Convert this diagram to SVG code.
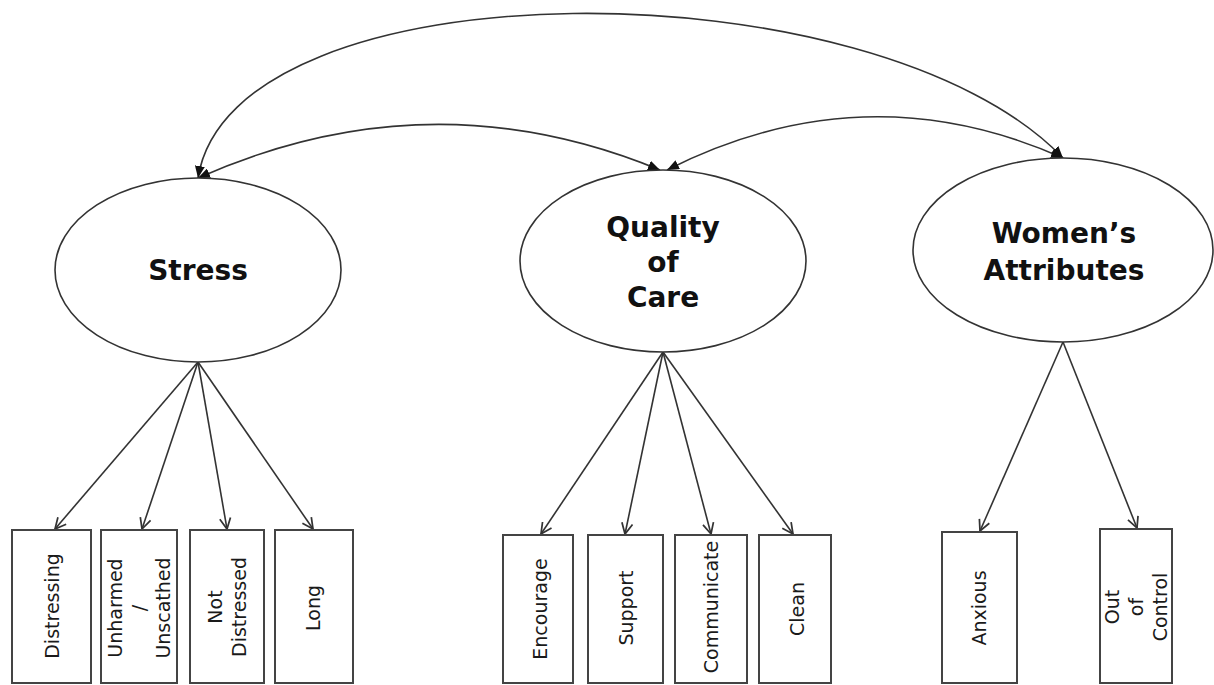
<svg xmlns="http://www.w3.org/2000/svg" width="1214" height="685" viewBox="0 0 1214 685">
<style>
.lat{fill:#fff;stroke:#333;stroke-width:1.6}
.ind{fill:#fff;stroke:#444;stroke-width:2}
.ltxt{font-family:"DejaVu Sans",Verdana,sans-serif;font-weight:bold;font-size:28px;fill:#111;text-anchor:middle}
.itxt{font-family:"DejaVu Sans",Verdana,sans-serif;font-size:19px;fill:#1a1a1a;text-anchor:middle;dominant-baseline:central}
.load{fill:none;stroke:#333;stroke-width:1.6;marker-end:url(#open)}
.cov{fill:none;stroke:#333;stroke-width:1.6;marker-start:url(#fill);marker-end:url(#fill)}
</style>
<defs>
<marker id="open" markerUnits="userSpaceOnUse" viewBox="0 0 12 12" refX="11" refY="6" markerWidth="13" markerHeight="13" orient="auto">
<path d="M1,1 L11,6 L1,11" fill="none" stroke="#333" stroke-width="1.6"/>
</marker>
<marker id="fill" markerUnits="userSpaceOnUse" viewBox="0 0 12 10" refX="12" refY="5" markerWidth="12" markerHeight="10" orient="auto-start-reverse">
<path d="M0,0 L12,5 L0,10 Z" fill="#111"/>
</marker>
</defs>
<rect width="1214" height="685" fill="#fff"/>
<g id="connectors">
<path class="cov" d="M198,178 C232,-38 875,-38 1063,158"/>
<path class="cov" d="M198,178 Q430,75 660,170"/>
<path class="cov" d="M667,170 Q865,70 1063,158"/>
<line class="load" x1="198" y1="362" x2="55" y2="529"/>
<line class="load" x1="198" y1="362" x2="142" y2="529"/>
<line class="load" x1="198" y1="362" x2="227" y2="529"/>
<line class="load" x1="198" y1="362" x2="313" y2="529"/>
<line class="load" x1="663" y1="352" x2="541" y2="534"/>
<line class="load" x1="663" y1="352" x2="625" y2="534"/>
<line class="load" x1="663" y1="352" x2="711" y2="534"/>
<line class="load" x1="663" y1="352" x2="793" y2="534"/>
<line class="load" x1="1063" y1="342" x2="980" y2="531"/>
<line class="load" x1="1063" y1="342" x2="1137" y2="528"/>
</g>
<g id="stress">
<ellipse class="lat" cx="198" cy="270" rx="143" ry="92"/>
<text class="ltxt" x="198" y="280">Stress</text>
</g>
<g id="quality">
<ellipse class="lat" cx="663" cy="261" rx="143" ry="91"/>
<text class="ltxt" x="663" y="237">Quality</text>
<text class="ltxt" x="663" y="272">of</text>
<text class="ltxt" x="663" y="307">Care</text>
</g>
<g id="women">
<ellipse class="lat" cx="1063" cy="250" rx="150" ry="92"/>
<text class="ltxt" x="1064" y="243">Women’s</text>
<text class="ltxt" x="1064" y="280">Attributes</text>
</g>
<g id="distressing">
<rect class="ind" x="12" y="530" width="79" height="153"/>
<text class="itxt" x="52" y="606" transform="rotate(-90 52 606)">Distressing</text>
</g>
<g id="unharmed">
<rect class="ind" x="101" y="530" width="76" height="153"/>
<text class="itxt" x="139" y="608" transform="rotate(-90 139 608)"><tspan x="139" dy="-24">Unharmed</tspan><tspan x="139" dy="24">/</tspan><tspan x="139" dy="24">Unscathed</tspan></text>
</g>
<g id="notdistressed">
<rect class="ind" x="190" y="530" width="74" height="153"/>
<text class="itxt" x="227" y="607" transform="rotate(-90 227 607)"><tspan x="227" dy="-12">Not</tspan><tspan x="227" dy="24">Distressed</tspan></text>
</g>
<g id="long">
<rect class="ind" x="275" y="530" width="78" height="153"/>
<text class="itxt" x="313" y="608" transform="rotate(-90 313 608)">Long</text>
</g>
<g id="encourage">
<rect class="ind" x="503" y="535" width="70" height="148"/>
<text class="itxt" x="540" y="609" transform="rotate(-90 540 609)">Encourage</text>
</g>
<g id="support">
<rect class="ind" x="588" y="535" width="75" height="148"/>
<text class="itxt" x="626" y="608" transform="rotate(-90 626 608)">Support</text>
</g>
<g id="communicate">
<rect class="ind" x="675" y="535" width="72" height="148"/>
<text class="itxt" x="711" y="607" transform="rotate(-90 711 607)">Communicate</text>
</g>
<g id="clean">
<rect class="ind" x="759" y="535" width="72" height="148"/>
<text class="itxt" x="797" y="609" transform="rotate(-90 797 609)">Clean</text>
</g>
<g id="anxious">
<rect class="ind" x="942" y="532" width="75" height="151"/>
<text class="itxt" x="979" y="608" transform="rotate(-90 979 608)">Anxious</text>
</g>
<g id="outofcontrol">
<rect class="ind" x="1100" y="529" width="72" height="154"/>
<text class="itxt" x="1136" y="607" transform="rotate(-90 1136 607)"><tspan x="1136" dy="-24">Out</tspan><tspan x="1136" dy="24">of</tspan><tspan x="1136" dy="24">Control</tspan></text>
</g>
</svg>
